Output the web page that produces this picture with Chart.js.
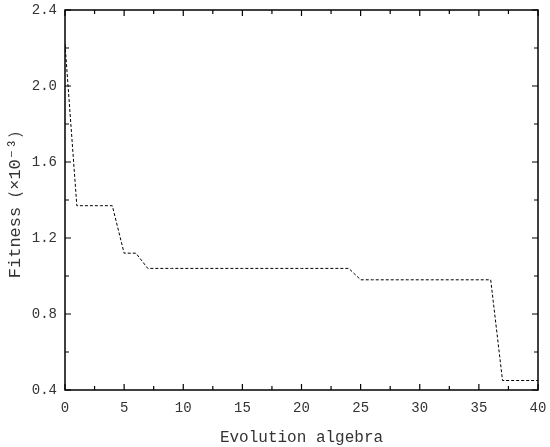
<!DOCTYPE html>
<html>
<head>
<meta charset="utf-8">
<script src="https://cdn.jsdelivr.net/npm/chart.js@4/dist/chart.umd.min.js"></script>
<style>
  html, body { margin: 0; padding: 0; background: #fff; }
  #c { display: block; }
</style>
</head>
<body>
<canvas id="c" width="550" height="447"></canvas>
<script>
// Generations (x) and best fitness values (×10^-3)
const generations = [0,1,2,3,4,5,6,7,8,9,10,11,12,13,14,15,16,17,18,19,20,21,22,23,24,25,26,27,28,29,30,31,32,33,34,35,36,37,38,39,40];
const fitness = [2.22,1.37,1.37,1.37,1.37,1.12,1.12,1.04,1.04,1.04,1.04,1.04,1.04,1.04,1.04,1.04,1.04,1.04,1.04,1.04,1.04,1.04,1.04,1.04,1.04,0.98,0.98,0.98,0.98,0.98,0.98,0.98,0.98,0.98,0.98,0.98,0.98,0.45,0.45,0.45,0.45];
const xTicks = [0,5,10,15,20,25,30,35,40];
const yTicks = [0.4,0.8,1.2,1.6,2.0,2.4];
const xTitle = 'Evolution algebra';
const yTitle = 'Fitness\uFF08\u00D710\u207B\u00B3\uFF09';

const FONT = "'Liberation Mono', 'DejaVu Sans Mono', monospace";

const framePlugin = {
  id: 'frame',
  afterDraw(chart) {
    const ctx = chart.ctx;
    const a = chart.chartArea;
    const xs = chart.scales.x, ys = chart.scales.y;
    ctx.save();
    ctx.strokeStyle = '#000';
    ctx.lineWidth = 1.5;
    ctx.strokeRect(a.left, a.top, a.right - a.left, a.bottom - a.top);
    ctx.lineWidth = 1.2;
    const major = 6, minor = 4;
    ctx.beginPath();
    for (let i = 0; i < xTicks.length; i++) {
      const px = xs.getPixelForValue(xTicks[i]);
      ctx.moveTo(px, a.bottom); ctx.lineTo(px, a.bottom - major);
      ctx.moveTo(px, a.top); ctx.lineTo(px, a.top + major);
      if (i < xTicks.length - 1) {
        const mx = xs.getPixelForValue((xTicks[i] + xTicks[i+1]) / 2);
        ctx.moveTo(mx, a.bottom); ctx.lineTo(mx, a.bottom - minor);
        ctx.moveTo(mx, a.top); ctx.lineTo(mx, a.top + minor);
      }
    }
    for (let i = 0; i < yTicks.length; i++) {
      const py = ys.getPixelForValue(yTicks[i]);
      ctx.moveTo(a.left, py); ctx.lineTo(a.left + major, py);
      ctx.moveTo(a.right, py); ctx.lineTo(a.right - major, py);
      if (i < yTicks.length - 1) {
        const my = ys.getPixelForValue((yTicks[i] + yTicks[i+1]) / 2);
        ctx.moveTo(a.left, my); ctx.lineTo(a.left + minor, my);
        ctx.moveTo(a.right, my); ctx.lineTo(a.right - minor, my);
      }
    }
    ctx.stroke();
    ctx.restore();
  }
};

new Chart(document.getElementById('c'), {
  type: 'line',
  data: {
    labels: generations,
    datasets: [{
      data: generations.map((g, i) => ({x: g, y: fitness[i]})),
      borderColor: '#000',
      borderWidth: 1,
      borderDash: [3, 2],
      pointRadius: 0,
      tension: 0,
      fill: false
    }]
  },
  options: {
    responsive: false,
    animation: false,
    devicePixelRatio: 1,
    layout: { padding: { top: 10, right: 12, left: 0, bottom: 0 } },
    plugins: { legend: { display: false }, tooltip: { enabled: false } },
    scales: {
      x: {
        type: 'linear',
        min: 0, max: 40,
        afterBuildTicks(s) { s.ticks = xTicks.map(v => ({value: v})); },
        afterFit(s) { s.height = 57; s.paddingLeft = 0; s.paddingRight = 0; },
        grid: { display: false, drawTicks: false },
        border: { display: false },
        ticks: {
          color: '#333',
          font: { family: FONT, size: 14 },
          padding: 10,
          maxRotation: 0,
          callback: v => String(v)
        },
        title: {
          display: true,
          text: xTitle,
          color: '#333',
          font: { family: FONT, size: 16 },
          padding: { top: 2, bottom: 0 }
        }
      },
      y: {
        type: 'linear',
        min: 0.4, max: 2.4,
        afterBuildTicks(s) { s.ticks = yTicks.map(v => ({value: v})); },
        afterFit(s) { s.width = 65; s.paddingTop = 0; s.paddingBottom = 0; },
        grid: { display: false, drawTicks: false },
        border: { display: false },
        ticks: {
          color: '#333',
          font: { family: FONT, size: 14 },
          padding: 8,
          callback: v => Number(v).toFixed(1)
        },
        title: {
          display: true,
          text: yTitle,
          color: '#333',
          font: { family: FONT, size: 17 },
          padding: { top: 5, bottom: 0 }
        }
      }
    }
  },
  plugins: [framePlugin]
});
</script>
</body>
</html>
